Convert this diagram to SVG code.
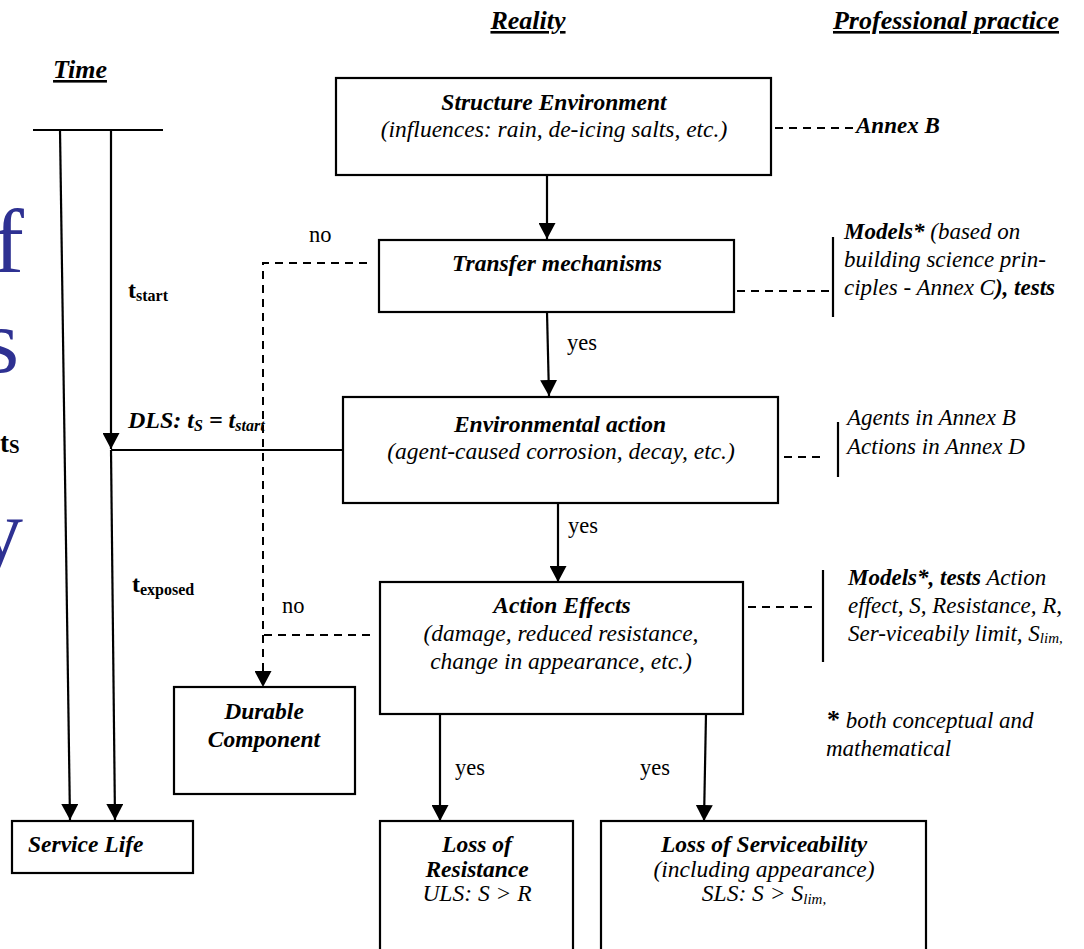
<svg xmlns="http://www.w3.org/2000/svg" width="1084" height="949" viewBox="0 0 1084 949">
<style>
text{font-family:"Liberation Serif","Times New Roman",serif;fill:#000;}
.bi{font-weight:bold;font-style:italic;}
.it{font-style:italic;}
.bt{font-size:23.5px;}
.rs{font-size:23px;}
.lb{font-size:22.5px;}
.hd{font-size:26px;font-weight:bold;font-style:italic;text-decoration:underline;}
text.big{font-size:92px;fill:#2e3192;}
.box{fill:#fff;stroke:#000;stroke-width:2.2;}
.ln{fill:none;stroke:#000;stroke-width:2.2;}
.ds{fill:none;stroke:#000;stroke-width:2;stroke-dasharray:8,6;}
.ar{marker-end:url(#ah);}
.sub{font-size:16px;}
</style>
<defs>
<marker id="ah" viewBox="0 0 16 17" refX="16" refY="8.5" markerWidth="16" markerHeight="17" markerUnits="userSpaceOnUse" orient="auto">
<path d="M0,0 L16,8.5 L0,17 z" fill="#000"/>
</marker>
</defs>
<rect width="1084" height="949" fill="#fff"/>

<g id="background-letters">
<text class="big" x="24" y="272" text-anchor="end">f</text>
<text class="big" x="19" y="372" text-anchor="end">s</text>
<text class="big" x="23" y="562" text-anchor="end">y</text>
</g>

<g id="headings">
<text class="hd" x="80" y="78" text-anchor="middle">Time</text>
<text class="hd" x="528" y="29" text-anchor="middle">Reality</text>
<text class="hd" x="946" y="29" text-anchor="middle">Professional practice</text>
</g>

<g id="connectors">
<line class="ln" x1="33" y1="130" x2="163" y2="130"/>
<line class="ln ar" x1="60" y1="130" x2="70" y2="820"/>
<line class="ln ar" x1="111" y1="130" x2="111" y2="449"/>
<line class="ln ar" x1="111" y1="450" x2="115" y2="820"/>
<line class="ln" x1="111" y1="450" x2="343" y2="450"/>
<line class="ln ar" x1="547" y1="166" x2="547" y2="239"/>
<line class="ln ar" x1="547" y1="312" x2="549" y2="396"/>
<line class="ln ar" x1="558" y1="503" x2="558" y2="582"/>
<line class="ln ar" x1="440" y1="714" x2="440" y2="821"/>
<line class="ln ar" x1="706" y1="714" x2="704" y2="821"/>
<path class="ds ar" d="M367,263 H263 V687"/>
<path class="ds" d="M370,635 H263"/>
<path class="ds" d="M775,128 H855"/>
<path class="ds" d="M737,291 H829"/>
<line class="ln" x1="833" y1="237" x2="833" y2="317"/>
<path class="ds" d="M784,457 H822"/>
<line class="ln" x1="838" y1="422" x2="838" y2="477"/>
<path class="ds" d="M748,607 H818"/>
<line class="ln" x1="823" y1="570" x2="823" y2="662"/>
<text class="lb" x="309" y="242">no</text>
<text class="lb" x="567" y="350">yes</text>
<text class="lb" x="568" y="533">yes</text>
<text class="lb" x="282" y="613">no</text>
<text class="lb" x="455" y="775">yes</text>
<text class="lb" x="640" y="775">yes</text>
</g>

<g id="time-labels">
<text x="0" y="452" style="font-size:27px;font-weight:bold">t<tspan style="font-size:19px" dy="1">S</tspan></text>
<text x="128" y="298" style="font-size:24px;font-weight:bold">t<tspan class="sub" dy="3">start</tspan></text>
<text x="132" y="592" style="font-size:24px;font-weight:bold">t<tspan class="sub" dy="3">exposed</tspan></text>
<text class="bi" x="128" y="428" style="font-size:24px">DLS:  t<tspan class="sub" dy="3">S</tspan><tspan dy="-3"> = t</tspan><tspan class="sub" dy="3">start</tspan></text>
</g>

<g id="structure-environment">
<rect class="box" x="336" y="78" width="435" height="97"/>
<text class="bi bt" x="554" y="110" text-anchor="middle">Structure Environment</text>
<text class="it bt" x="554" y="137" text-anchor="middle">(influences: rain, de-icing salts, etc.)</text>
</g>

<g id="transfer-mechanisms">
<rect class="box" x="379" y="240" width="355" height="72"/>
<text class="bi bt" x="557" y="271" text-anchor="middle">Transfer mechanisms</text>
</g>

<g id="environmental-action">
<rect class="box" x="343" y="397" width="435" height="106"/>
<text class="bi bt" x="560" y="432" text-anchor="middle">Environmental action</text>
<text class="it bt" x="561" y="459" text-anchor="middle">(agent-caused corrosion, decay, etc.)</text>
</g>

<g id="action-effects">
<rect class="box" x="380" y="582" width="363" height="132"/>
<text class="bi bt" x="562" y="613" text-anchor="middle">Action Effects</text>
<text class="it bt" x="561" y="641" text-anchor="middle">(damage, reduced  resistance,</text>
<text class="it bt" x="561" y="669" text-anchor="middle">change in appearance, etc.)</text>
</g>

<g id="durable-component">
<rect class="box" x="174" y="687" width="181" height="107"/>
<text class="bi bt" x="264" y="719" text-anchor="middle">Durable</text>
<text class="bi bt" x="264" y="747" text-anchor="middle">Component</text>
</g>

<g id="service-life">
<rect class="box" x="12" y="821" width="181" height="52"/>
<text class="bi bt" x="28" y="852">Service Life</text>
</g>

<g id="loss-of-resistance">
<rect class="box" x="380" y="821" width="193" height="150"/>
<text class="bi bt" x="477" y="852" text-anchor="middle">Loss of</text>
<text class="bi bt" x="477" y="877" text-anchor="middle">Resistance</text>
<text class="it bt" x="477" y="901" text-anchor="middle">ULS: S &gt; R</text>
</g>

<g id="loss-of-serviceability">
<rect class="box" x="601" y="821" width="325" height="150"/>
<text class="bi bt" x="764" y="852" text-anchor="middle">Loss of Serviceability</text>
<text class="it bt" x="764" y="877" text-anchor="middle">(including appearance)</text>
<text class="it bt" x="764" y="901" text-anchor="middle">SLS: S &gt; S<tspan style="font-size:15px" dy="3">lim,</tspan></text>
</g>

<g id="practice-notes">
<text class="bi rs" x="856" y="133">Annex B</text>
<text class="it rs" x="844" y="239"><tspan class="bi">Models*</tspan> (based on</text>
<text class="it rs" x="844" y="267">building science prin-</text>
<text class="it rs" x="844" y="295">ciples - Annex C<tspan class="bi">), tests</tspan></text>
<text class="it rs" x="847" y="425">Agents in Annex B</text>
<text class="it rs" x="847" y="454">Actions in Annex D</text>
<text class="it rs" x="848" y="585"><tspan class="bi">Models*, tests</tspan> Action</text>
<text class="it rs" x="848" y="613">effect, S, Resistance, R,</text>
<text class="it rs" x="848" y="641">Ser-viceabily limit, S<tspan style="font-size:15px" dy="2">lim,</tspan></text>
<text class="it rs" x="827" y="728"><tspan style="font-weight:bold;font-style:normal;font-size:26px">*</tspan> both conceptual and</text>
<text class="it rs" x="826" y="756">mathematical</text>
</g>
</svg>
